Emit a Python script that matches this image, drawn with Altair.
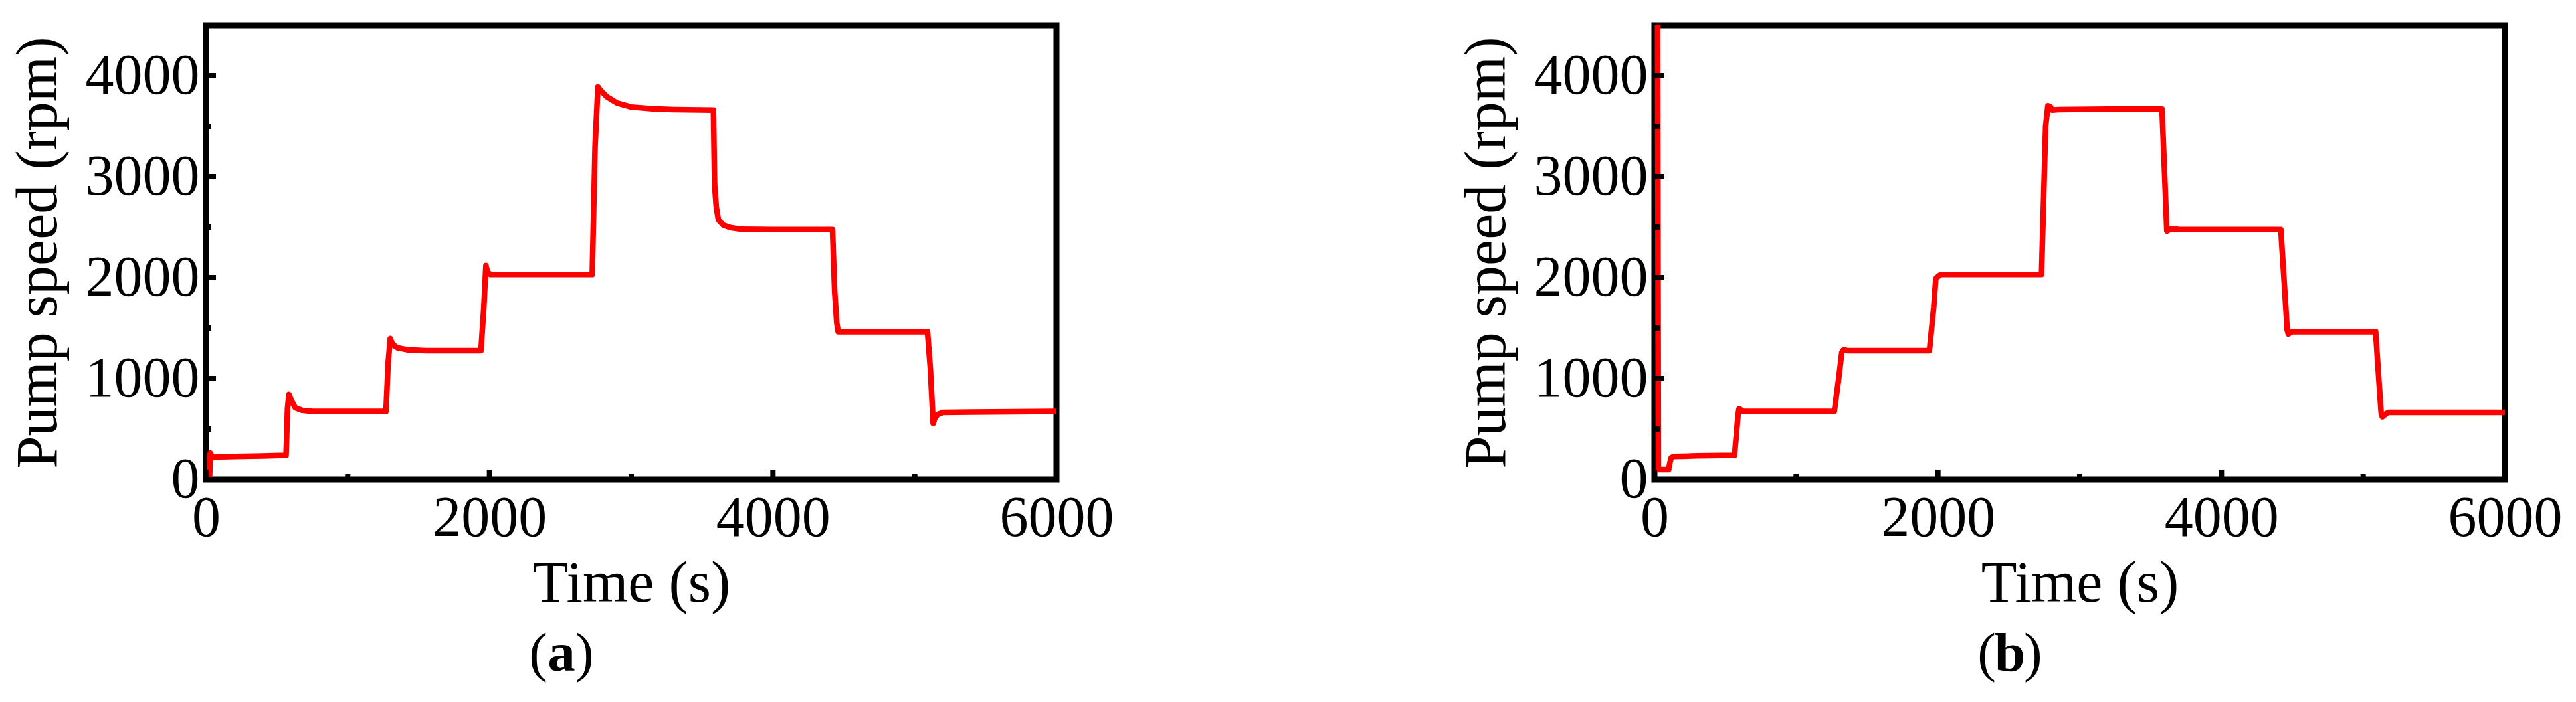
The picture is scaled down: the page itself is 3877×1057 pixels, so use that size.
import altair as alt
import pandas as pd

# ---- data ----
time_a = [0, 25, 30, 45, 60, 200, 400, 565, 575, 585, 600, 630, 680, 750, 1000, 1270,
          1285, 1300, 1315, 1350, 1420, 1550, 1700, 1940, 1960, 1975, 1985, 2005, 2100,
          2400, 2725, 2745, 2765, 2780, 2830, 2900, 3000, 3150, 3300, 3580, 3588, 3600,
          3615, 3650, 3700, 3780, 4000, 4420, 4435, 4450, 4460, 4700, 5090, 5110, 5130,
          5140, 5160, 5200, 5400, 6000]
speed_a = [0, 0, 263, 215, 223, 228, 234, 240, 700, 843, 790, 710, 685, 674, 674, 674,
           1150, 1397, 1340, 1305, 1285, 1277, 1277, 1277, 1700, 2120, 2060, 2031, 2031,
           2031, 2031, 3300, 3890, 3860, 3790, 3730, 3690, 3672, 3665, 3659, 2927, 2700,
           2572, 2520, 2495, 2478, 2475, 2475, 1863, 1550, 1464, 1464, 1464, 1100, 554,
           600, 643, 665, 668, 674]

time_b = [15, 22, 28, 100, 108, 118, 135, 300, 565, 590, 597, 627, 900, 1269, 1300, 1322,
          1335, 1360, 1700, 1940, 1970, 1985, 2000, 2020, 2400, 2731, 2760, 2776, 2795,
          2806, 2850, 3200, 3581, 3600, 3615, 3640, 3659, 3700, 4000, 4419, 4450, 4464,
          4472, 4498, 4800, 5088, 5115, 5127, 5135, 5160, 5179, 5500, 6000]
speed_b = [4600, 4600, 98, 98, 160, 215, 228, 235, 240, 640, 701, 674, 674, 674, 1000,
           1260, 1286, 1277, 1277, 1277, 1700, 1990, 2010, 2031, 2031, 2031, 3500, 3703,
           3690, 3659, 3665, 3670, 3670, 3000, 2461, 2480, 2484, 2475, 2475, 2475, 1800,
           1480, 1441, 1464, 1464, 1464, 900, 660, 621, 650, 665, 665, 665]

x_major = [0, 2000, 4000, 6000]
x_minor = [1000, 3000, 5000]
y_major = [0, 1000, 2000, 3000, 4000]
y_minor = [500, 1500, 2500, 3500]
x_title = "Time (s)"
y_title = "Pump speed (rpm)"
panel_letters = ["a", "b"]

FONT = "Liberation Serif"
FS = 86      # tick labels
TFS = 88     # axis titles
LFS = 83     # panel letters
W, H = 1280, 684

xs = alt.Scale(domain=[0, 6000], nice=False, zero=False)
ys = alt.Scale(domain=[0, 4500], nice=False, zero=False)
xaxis = alt.Axis(values=x_major, title=x_title, domain=False, ticks=False, tickSize=0,
                 grid=False, labelFlush=False, labelOverlap=False, labelPadding=16,
                 labelFontSize=FS, labelFont=FONT, labelColor="black",
                 titleFont=FONT, titleFontSize=TFS, titleFontWeight="normal",
                 titleColor="black", titlePadding=12, format="d")
yaxis = alt.Axis(values=y_major, title=y_title, domain=False, ticks=False, tickSize=0,
                 grid=False, labelFlush=False, labelOverlap=False, labelPadding=10,
                 labelFontSize=FS, labelFont=FONT, labelColor="black",
                 titleFont=FONT, titleFontSize=TFS, titleFontWeight="normal",
                 titleColor="black", titlePadding=26, format="d")


def panel(times, speeds, letter):
    df = pd.DataFrame({"t": times, "v": speeds})
    line = alt.Chart(df).mark_line(color="#ff0000", strokeWidth=8.5, clip=True,
                                   strokeJoin="round").encode(
        x=alt.X("t:Q", scale=xs, axis=xaxis),
        y=alt.Y("v:Q", scale=ys, axis=yaxis),
        order="t:Q",
    )

    def xticks(vals, size):
        return alt.Chart(pd.DataFrame({"t": vals})).mark_tick(
            orient="vertical", size=size, thickness=8, yOffset=-size / 2, color="black", opacity=1
        ).encode(x=alt.X("t:Q", scale=xs, axis=xaxis),
                 y=alt.Y(datum=0, scale=ys, axis=yaxis))

    def yticks(vals, size):
        return alt.Chart(pd.DataFrame({"v": vals})).mark_tick(
            orient="horizontal", size=size, thickness=8, xOffset=size / 2, color="black", opacity=1
        ).encode(y=alt.Y("v:Q", scale=ys, axis=yaxis),
                 x=alt.X(datum=0, scale=xs, axis=xaxis))

    one = pd.DataFrame({"k": [0]})
    cx = 535
    ty = 972
    lab_l = alt.Chart(one).mark_text(text="(", align="right", baseline="alphabetic", font=FONT,
                                     fontSize=LFS, color="black").encode(
        x=alt.value(cx - 21), y=alt.value(ty))
    lab_m = alt.Chart(one).mark_text(text=letter, align="center", baseline="alphabetic",
                                     font=FONT, fontSize=LFS, fontWeight="bold",
                                     color="black").encode(x=alt.value(cx), y=alt.value(ty))
    lab_r = alt.Chart(one).mark_text(text=")", align="left", baseline="alphabetic", font=FONT,
                                     fontSize=LFS, color="black").encode(
        x=alt.value(cx + 21), y=alt.value(ty))

    return alt.layer(line, xticks(x_major, 15), xticks(x_minor, 8), yticks(y_major, 15),
                     yticks(y_minor, 8), lab_l, lab_m, lab_r).properties(width=W, height=H)


pa = panel(time_a, speed_a, panel_letters[0])
pb = panel(time_b, speed_b, panel_letters[1])

chart = alt.hconcat(pa, pb, spacing=900, bounds="flush").configure_view(
    stroke="black", strokeWidth=9
).properties(
    padding={"left": 1, "top": 25, "right": 5, "bottom": 5},
    background="white",
)

chart.save("out.html", embed_options={"renderer": "svg", "actions": False})
